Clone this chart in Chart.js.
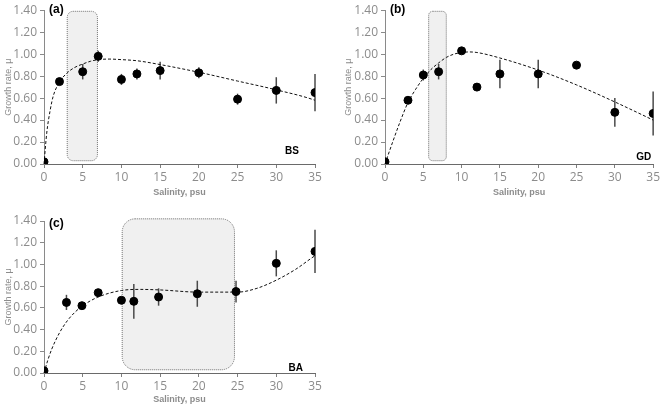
<!DOCTYPE html>
<html>
<head>
<meta charset="utf-8">
<script src="https://cdn.jsdelivr.net/npm/chart.js@4.4.1/dist/chart.umd.min.js"></script>
<style>
html, body { margin: 0; padding: 0; background: #fff; }
#wrap { position: relative; width: 662px; height: 408px; }
canvas { position: absolute; }
</style>
</head>
<body>
<div id="wrap">
  <canvas id="chartA" width="330" height="205" style="left:0;top:0"></canvas>
  <canvas id="chartB" width="332" height="205" style="left:330px;top:0"></canvas>
  <canvas id="chartC" width="330" height="203" style="left:0;top:205px"></canvas>
</div>
<script>
// (a) BS
const salinityA = [0, 2, 5, 7, 10, 12, 15, 20, 25, 30, 35];
const rateA = [0.02, 0.75, 0.84, 0.98, 0.77, 0.82, 0.85, 0.83, 0.59, 0.67, 0.65];
const errA = [0, 0.02, 0.07, 0.05, 0.05, 0.05, 0.08, 0.05, 0.05, 0.12, 0.17];
const fitXA = [0, 0.35, 0.8, 1.2, 2, 3, 4, 5, 6, 7, 8.5, 10, 12, 15, 20, 25, 30, 35, 35.8];
const fitYA = [0, 0.28, 0.49, 0.62, 0.745, 0.83, 0.88, 0.91, 0.935, 0.95, 0.955, 0.95, 0.94, 0.905, 0.835, 0.755, 0.675, 0.58, 0.555];
const optimumA = [3.0, 6.9, 0.03, 1.39];

// (b) GD
const salinityB = [0, 3, 5, 7, 10, 12, 15, 20, 25, 30, 35];
const rateB = [0.02, 0.58, 0.81, 0.84, 1.03, 0.70, 0.82, 0.82, 0.90, 0.47, 0.46];
const errB = [0, 0.03, 0.05, 0.07, 0.03, 0.03, 0.13, 0.13, 0.03, 0.13, 0.2];
const fitXB = [0, 1, 2, 3, 4, 5, 6, 7, 8, 9, 10, 11, 12, 15, 20, 25, 30, 35, 35.6];
const fitYB = [0, 0.2, 0.39, 0.56, 0.68, 0.78, 0.86, 0.92, 0.97, 1.0, 1.015, 1.02, 1.015, 0.965, 0.855, 0.72, 0.565, 0.40, 0.38];
const optimumB = [5.7, 8.0, 0.03, 1.39];

// (c) BA
const salinityC = [0, 2.9, 4.9, 7, 10, 11.6, 14.8, 19.8, 24.8, 30, 35];
const rateC = [0.02, 0.65, 0.62, 0.74, 0.67, 0.66, 0.70, 0.73, 0.75, 1.01, 1.12];
const errC = [0, 0.07, 0.03, 0.01, 0.03, 0.16, 0.08, 0.12, 0.1, 0.12, 0.2];
const fitXC = [0, 0.5, 1, 2, 3, 4, 5, 7, 10, 12.5, 15, 20, 25, 27.5, 30, 32.5, 35, 35.5];
const fitYC = [0, 0.12, 0.22, 0.37, 0.48, 0.56, 0.62, 0.70, 0.76, 0.77, 0.765, 0.745, 0.745, 0.78, 0.855, 0.955, 1.08, 1.10];
const optimumC = [10.1, 24.6, 0.03, 1.42];

const yTicks = [0, 0.2, 0.4, 0.6, 0.8, 1.0, 1.2, 1.4];

const GRAY = '#8c8c8c';

const panelPlugin = {
    id: 'panel',
    beforeDatasetsDraw(chart, args, opts) {
        const { ctx, scales: { x, y } } = chart;
        const [x0, x1, y0, y1] = opts.box;
        const l = x.getPixelForValue(x0), r = x.getPixelForValue(x1);
        const t = y.getPixelForValue(y1), b = y.getPixelForValue(y0);
        ctx.save();
        // shaded optimum range
        ctx.beginPath();
        ctx.roundRect(l, t, r - l, b - t, opts.radius);
        ctx.fillStyle = '#f0f0f0';
        ctx.fill();
        ctx.setLineDash([1, 1]);
        ctx.strokeStyle = '#6f6f6f';
        ctx.lineWidth = 1;
        ctx.stroke();
        // error bars
        ctx.setLineDash([]);
        ctx.strokeStyle = '#4a4a4a';
        ctx.lineWidth = 1.5;
        opts.xs.forEach((v, i) => {
            const e = opts.errs[i];
            if (!e) return;
            const px = x.getPixelForValue(v);
            ctx.beginPath();
            ctx.moveTo(px, y.getPixelForValue(opts.ys[i] + e));
            ctx.lineTo(px, y.getPixelForValue(opts.ys[i] - e));
            ctx.stroke();
        });
        ctx.restore();
    },
    afterDraw(chart, args, opts) {
        const { ctx, chartArea } = chart;
        ctx.save();
        ctx.fillStyle = '#000';
        ctx.font = 'bold 12px "Liberation Sans"';
        ctx.textBaseline = 'middle';
        ctx.textAlign = 'left';
        ctx.fillText(opts.panel, chartArea.left + 5, chartArea.top + opts.panelDy);
        ctx.font = 'bold 10px "Liberation Sans"';
        ctx.textAlign = 'right';
        ctx.fillText(opts.site, chartArea.right - opts.siteDx, chartArea.bottom - opts.siteDy);
        ctx.restore();
    }
};

function makePanel(id, xs, ys, errs, fitX, fitY, box, cfg) {
    return new Chart(document.getElementById(id), {
        type: 'scatter',
        data: {
            datasets: [{
                data: xs.map((v, i) => ({ x: v, y: ys[i] })),
                backgroundColor: '#000',
                borderColor: '#000',
                pointRadius: 4,
                pointHoverRadius: 4,
            }, {
                type: 'line',
                data: fitX.map((v, i) => ({ x: v, y: fitY[i] })),
                borderColor: '#111',
                borderWidth: 1,
                borderDash: [3, 2],
                pointRadius: 0,
                cubicInterpolationMode: 'monotone',
                fill: false,
                clip: false,
            }]
        },
        options: {
            responsive: false,
            animation: false,
            events: [],
            layout: { padding: cfg.padding },
            plugins: {
                legend: { display: false },
                tooltip: { enabled: false },
                panel: {
                    box: box, radius: cfg.radius, xs: xs, ys: ys, errs: errs,
                    panel: cfg.panel, panelDy: cfg.panelDy,
                    site: cfg.site, siteDx: cfg.siteDx, siteDy: cfg.siteDy,
                },
            },
            scales: {
                x: {
                    type: 'linear', min: 0, max: 35,
                    ticks: { stepSize: 5, color: GRAY, font: { family: 'Open Sans', size: 12 }, padding: 2, maxRotation: 0 },
                    grid: { drawOnChartArea: false, tickLength: 4, color: '#7f7f7f' },
                    border: { color: '#6a6a6a', width: 1 },
                    title: {
                        display: true, text: 'Salinity, psu', color: GRAY,
                        font: { family: 'Liberation Sans', size: 9, weight: 'bold' },
                        padding: { top: 0, bottom: cfg.xTitlePad },
                    },
                    afterFit(s) { s.height = cfg.xHeight; },
                },
                y: {
                    type: 'linear', min: 0, max: 1.4,
                    afterBuildTicks(s) { s.ticks = yTicks.map(v => ({ value: v })); },
                    ticks: {
                        color: GRAY, font: { family: 'Open Sans', size: 12 }, padding: 3,
                        callback: v => v.toFixed(2),
                    },
                    grid: { drawOnChartArea: false, tickLength: 4, color: '#8a8a8a' },
                    border: { color: '#8a8a8a', width: 1 },
                    title: {
                        display: true, text: 'Growth rate, μ', color: GRAY,
                        font: { family: 'Liberation Sans', size: 9 },
                        padding: { top: cfg.yTitlePad, bottom: 0 },
                    },
                    afterFit(s) { s.width = cfg.yWidth; },
                },
            },
        },
        plugins: [panelPlugin],
    });
}

makePanel('chartA', salinityA, rateA, errA, fitXA, fitYA, optimumA, {
    padding: { top: 10, right: 15, left: 0, bottom: 0 },
    xHeight: 41, xTitlePad: 7, yWidth: 44, yTitlePad: 3, radius: 6,
    panel: '(a)', panelDy: -1, site: 'BS', siteDx: 16, siteDy: 13,
});
makePanel('chartB', salinityB, rateB, errB, fitXB, fitYB, optimumB, {
    padding: { top: 10, right: 7, left: 0, bottom: 0 },
    xHeight: 41, xTitlePad: 7, yWidth: 55, yTitlePad: 13, radius: 4,
    panel: '(b)', panelDy: -1, site: 'GD', siteDx: 2, siteDy: 7,
});
makePanel('chartC', salinityC, rateC, errC, fitXC, fitYC, optimumC, {
    padding: { top: 16, right: 15, left: 0, bottom: 0 },
    xHeight: 35, xTitlePad: 3, yWidth: 44, yTitlePad: 3, radius: 13,
    panel: '(c)', panelDy: 3, site: 'BA', siteDx: 12, siteDy: 5,
});
</script>
</body>
</html>
